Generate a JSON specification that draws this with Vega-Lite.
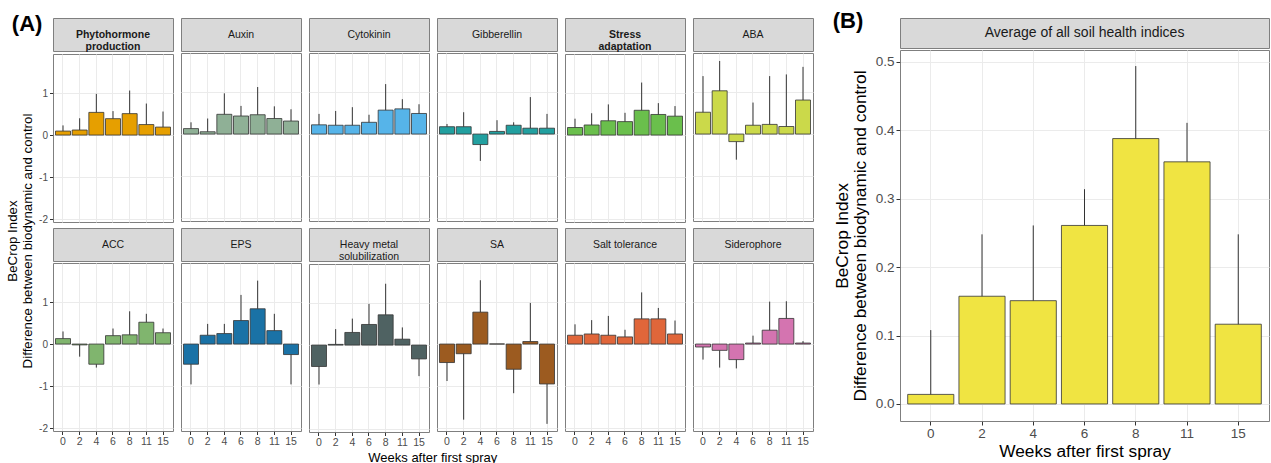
{
"$schema": "https://vega.github.io/schema/vega-lite/v6.json",
"padding": {"left": 5, "top": 9, "right": 0, "bottom": 0},
"spacing": 18,
"datasets": {
"a": [
{"cat":"Phytohormone production","week":0,"value":0.095,"err":0.23},{"cat":"Phytohormone production","week":2,"value":0.12,"err":0.40},{"cat":"Phytohormone production","week":4,"value":0.54,"err":0.98},{"cat":"Phytohormone production","week":6,"value":0.39,"err":0.57},{"cat":"Phytohormone production","week":8,"value":0.51,"err":1.06},{"cat":"Phytohormone production","week":11,"value":0.25,"err":0.75},{"cat":"Phytohormone production","week":15,"value":0.19,"err":0.56},
{"cat":"Auxin","week":0,"value":0.13,"err":0.28},{"cat":"Auxin","week":2,"value":0.055,"err":0.37},{"cat":"Auxin","week":4,"value":0.47,"err":0.97},{"cat":"Auxin","week":6,"value":0.43,"err":0.67},{"cat":"Auxin","week":8,"value":0.46,"err":1.12},{"cat":"Auxin","week":11,"value":0.37,"err":0.66},{"cat":"Auxin","week":15,"value":0.31,"err":0.59},
{"cat":"Cytokinin","week":0,"value":0.22,"err":0.48},{"cat":"Cytokinin","week":2,"value":0.21,"err":0.55},{"cat":"Cytokinin","week":4,"value":0.21,"err":0.64},{"cat":"Cytokinin","week":6,"value":0.28,"err":0.46},{"cat":"Cytokinin","week":8,"value":0.57,"err":1.19},{"cat":"Cytokinin","week":11,"value":0.60,"err":0.83},{"cat":"Cytokinin","week":15,"value":0.49,"err":0.71},
{"cat":"Gibberellin","week":0,"value":0.175,"err":0.24},{"cat":"Gibberellin","week":2,"value":0.175,"err":0.52},{"cat":"Gibberellin","week":4,"value":-0.25,"err":-0.64},{"cat":"Gibberellin","week":6,"value":0.063,"err":0.33},{"cat":"Gibberellin","week":8,"value":0.21,"err":0.28},{"cat":"Gibberellin","week":11,"value":0.14,"err":0.88},{"cat":"Gibberellin","week":15,"value":0.14,"err":0.48},
{"cat":"Stress adaptation","week":0,"value":0.18,"err":0.39},{"cat":"Stress adaptation","week":2,"value":0.24,"err":0.52},{"cat":"Stress adaptation","week":4,"value":0.34,"err":0.73},{"cat":"Stress adaptation","week":6,"value":0.32,"err":0.53},{"cat":"Stress adaptation","week":8,"value":0.59,"err":1.25},{"cat":"Stress adaptation","week":11,"value":0.49,"err":0.76},{"cat":"Stress adaptation","week":15,"value":0.45,"err":0.69},
{"cat":"ABA","week":0,"value":0.52,"err":1.38},{"cat":"ABA","week":2,"value":1.03,"err":1.74},{"cat":"ABA","week":4,"value":-0.18,"err":-0.61},{"cat":"ABA","week":6,"value":0.21,"err":0.75},{"cat":"ABA","week":8,"value":0.23,"err":1.38},{"cat":"ABA","week":11,"value":0.18,"err":1.42},{"cat":"ABA","week":15,"value":0.81,"err":1.60},
{"cat":"ACC","week":0,"value":0.13,"err":0.30},{"cat":"ACC","week":2,"value":-0.02,"err":-0.30},{"cat":"ACC","week":4,"value":-0.48,"err":-0.56},{"cat":"ACC","week":6,"value":0.20,"err":0.37},{"cat":"ACC","week":8,"value":0.22,"err":0.78},{"cat":"ACC","week":11,"value":0.52,"err":0.72},{"cat":"ACC","week":15,"value":0.27,"err":0.37},
{"cat":"EPS","week":0,"value":-0.48,"err":-0.96},{"cat":"EPS","week":2,"value":0.21,"err":0.48},{"cat":"EPS","week":4,"value":0.25,"err":0.48},{"cat":"EPS","week":6,"value":0.56,"err":1.17},{"cat":"EPS","week":8,"value":0.84,"err":1.51},{"cat":"EPS","week":11,"value":0.32,"err":0.72},{"cat":"EPS","week":15,"value":-0.25,"err":-0.96},
{"cat":"Heavy metal solubilization","week":0,"value":-0.51,"err":-0.94},{"cat":"Heavy metal solubilization","week":2,"value":0.016,"err":0.38},{"cat":"Heavy metal solubilization","week":4,"value":0.30,"err":0.63},{"cat":"Heavy metal solubilization","week":6,"value":0.49,"err":0.98},{"cat":"Heavy metal solubilization","week":8,"value":0.72,"err":1.46},{"cat":"Heavy metal solubilization","week":11,"value":0.14,"err":0.42},{"cat":"Heavy metal solubilization","week":15,"value":-0.33,"err":-0.74},
{"cat":"SA","week":0,"value":-0.44,"err":-0.88},{"cat":"SA","week":2,"value":-0.23,"err":-1.80},{"cat":"SA","week":4,"value":0.76,"err":1.52},{"cat":"SA","week":6,"value":0.003,"err":0.003},{"cat":"SA","week":8,"value":-0.60,"err":-1.17},{"cat":"SA","week":11,"value":0.06,"err":0.98},{"cat":"SA","week":15,"value":-0.95,"err":-1.90},
{"cat":"Salt tolerance","week":0,"value":0.21,"err":0.47},{"cat":"Salt tolerance","week":2,"value":0.24,"err":0.57},{"cat":"Salt tolerance","week":4,"value":0.21,"err":0.67},{"cat":"Salt tolerance","week":6,"value":0.17,"err":0.34},{"cat":"Salt tolerance","week":8,"value":0.60,"err":1.23},{"cat":"Salt tolerance","week":11,"value":0.60,"err":0.86},{"cat":"Salt tolerance","week":15,"value":0.24,"err":0.56},
{"cat":"Siderophore","week":0,"value":-0.07,"err":-0.37},{"cat":"Siderophore","week":2,"value":-0.15,"err":-0.56},{"cat":"Siderophore","week":4,"value":-0.37,"err":-0.58},{"cat":"Siderophore","week":6,"value":0.024,"err":0.20},{"cat":"Siderophore","week":8,"value":0.33,"err":1.01},{"cat":"Siderophore","week":11,"value":0.61,"err":1.02},{"cat":"Siderophore","week":15,"value":0.024,"err":0.07}
],
"b": [
{"week":0,"value":0.014,"err":0.108},{"week":2,"value":0.1575,"err":0.248},{"week":4,"value":0.151,"err":0.261},{"week":6,"value":0.261,"err":0.314},{"week":8,"value":0.388,"err":0.494},{"week":11,"value":0.354,"err":0.411},{"week":15,"value":0.1166,"err":0.248}
]
},
"hconcat": [
{
"title": {"text": "(A)", "anchor": "start", "frame": "bounds", "fontSize": 22, "fontWeight": "bold", "offset": -13, "dx": 6, "dy": 5},
"vconcat": [
{
"title": {"text": ["BeCrop Index", "Difference between biodynamic and control"], "orient": "left", "anchor": "middle", "frame": "bounds", "fontSize": 13.3, "fontWeight": "normal", "lineHeight": 15, "offset": -10, "dy": -14},
"vconcat": [
{
"title": {"text": "Weeks after first spray", "orient": "bottom", "anchor": "middle", "frame": "bounds", "fontSize": 13, "fontWeight": "normal", "offset": 3, "dx": 7},
"spacing": 2,
"vconcat": [
{"spacing": 6, "hconcat": [
{"spacing": 0, "vconcat": [
{"width": 120, "height": 33, "view": {"fill": "#d9d9d9", "stroke": "#7f7f7f"}, "data": {"values": [{"s": "Phytohormone\nproduction"}]}, "mark": {"type": "text", "fontSize": 10.5, "fontWeight": "bold", "color": "#1a1a1a", "lineBreak": "\n", "lineHeight": 12}, "encoding": {"text": {"field": "s"}}},
{"width": 120, "height": 168, "data": {"name": "a"}, "transform": [{"filter": "datum.cat === 'Phytohormone production'"}],
 "encoding": {"x": {"field": "week", "type": "ordinal", "scale": {"paddingInner": 0.1, "paddingOuter": 0.15}, "axis": {"title": null, "labels": false, "ticks": false, "bandPosition": 0.5, "grid": true}}},
 "layer": [
  {"mark": {"type": "bar", "fill": "#E69F00", "stroke": "#333333", "strokeWidth": 0.8}, "encoding": {"y": {"field": "value", "type": "quantitative", "scale": {"domain": [-2.07, 1.93], "nice": false}, "axis": {"title": null, "grid": true, "values": [-2,-1.5,-1,-0.5,0,0.5,1,1.5], "gridWidth": {"condition": {"test": "datum.value % 1 !== 0", "value": 0.5}, "value": 1}, "tickOpacity": {"condition": {"test": "datum.value % 1 !== 0", "value": 0}, "value": 1}, "labelExpr": "datum.value % 1 === 0 ? '' + datum.value : ''", "labelFontSize": 10}}}},
  {"mark": {"type": "rule", "color": "#333333", "strokeWidth": 1}, "encoding": {"y": {"field": "value", "type": "quantitative"}, "y2": {"field": "err"}}}
 ]}
]},
{"spacing": 0, "vconcat": [
{"width": 120, "height": 33, "view": {"fill": "#d9d9d9", "stroke": "#7f7f7f"}, "data": {"values": [{"s": "Auxin"}]}, "mark": {"type": "text", "fontSize": 10.5, "color": "#1a1a1a", "lineBreak": "\n", "lineHeight": 12}, "encoding": {"text": {"field": "s"}}},
{"width": 120, "height": 168, "data": {"name": "a"}, "transform": [{"filter": "datum.cat === 'Auxin'"}],
 "encoding": {"x": {"field": "week", "type": "ordinal", "scale": {"paddingInner": 0.1, "paddingOuter": 0.15}, "axis": {"title": null, "labels": false, "ticks": false, "bandPosition": 0.5, "grid": true}}},
 "layer": [
  {"mark": {"type": "bar", "fill": "#8fb096", "stroke": "#333333", "strokeWidth": 0.8}, "encoding": {"y": {"field": "value", "type": "quantitative", "scale": {"domain": [-2.07, 1.93], "nice": false}, "axis": {"title": null, "labels": false, "ticks": false, "grid": true, "values": [-2,-1.5,-1,-0.5,0,0.5,1,1.5], "gridWidth": {"condition": {"test": "datum.value % 1 !== 0", "value": 0.5}, "value": 1}}}}},
  {"mark": {"type": "rule", "color": "#333333", "strokeWidth": 1}, "encoding": {"y": {"field": "value", "type": "quantitative"}, "y2": {"field": "err"}}}
 ]}
]},
{"spacing": 0, "vconcat": [
{"width": 120, "height": 33, "view": {"fill": "#d9d9d9", "stroke": "#7f7f7f"}, "data": {"values": [{"s": "Cytokinin"}]}, "mark": {"type": "text", "fontSize": 10.5, "color": "#1a1a1a", "lineBreak": "\n", "lineHeight": 12}, "encoding": {"text": {"field": "s"}}},
{"width": 120, "height": 168, "data": {"name": "a"}, "transform": [{"filter": "datum.cat === 'Cytokinin'"}],
 "encoding": {"x": {"field": "week", "type": "ordinal", "scale": {"paddingInner": 0.1, "paddingOuter": 0.15}, "axis": {"title": null, "labels": false, "ticks": false, "bandPosition": 0.5, "grid": true}}},
 "layer": [
  {"mark": {"type": "bar", "fill": "#56B4E9", "stroke": "#333333", "strokeWidth": 0.8}, "encoding": {"y": {"field": "value", "type": "quantitative", "scale": {"domain": [-2.07, 1.93], "nice": false}, "axis": {"title": null, "labels": false, "ticks": false, "grid": true, "values": [-2,-1.5,-1,-0.5,0,0.5,1,1.5], "gridWidth": {"condition": {"test": "datum.value % 1 !== 0", "value": 0.5}, "value": 1}}}}},
  {"mark": {"type": "rule", "color": "#333333", "strokeWidth": 1}, "encoding": {"y": {"field": "value", "type": "quantitative"}, "y2": {"field": "err"}}}
 ]}
]},
{"spacing": 0, "vconcat": [
{"width": 120, "height": 33, "view": {"fill": "#d9d9d9", "stroke": "#7f7f7f"}, "data": {"values": [{"s": "Gibberellin"}]}, "mark": {"type": "text", "fontSize": 10.5, "color": "#1a1a1a", "lineBreak": "\n", "lineHeight": 12}, "encoding": {"text": {"field": "s"}}},
{"width": 120, "height": 168, "data": {"name": "a"}, "transform": [{"filter": "datum.cat === 'Gibberellin'"}],
 "encoding": {"x": {"field": "week", "type": "ordinal", "scale": {"paddingInner": 0.1, "paddingOuter": 0.15}, "axis": {"title": null, "labels": false, "ticks": false, "bandPosition": 0.5, "grid": true}}},
 "layer": [
  {"mark": {"type": "bar", "fill": "#22a0a0", "stroke": "#333333", "strokeWidth": 0.8}, "encoding": {"y": {"field": "value", "type": "quantitative", "scale": {"domain": [-2.07, 1.93], "nice": false}, "axis": {"title": null, "labels": false, "ticks": false, "grid": true, "values": [-2,-1.5,-1,-0.5,0,0.5,1,1.5], "gridWidth": {"condition": {"test": "datum.value % 1 !== 0", "value": 0.5}, "value": 1}}}}},
  {"mark": {"type": "rule", "color": "#333333", "strokeWidth": 1}, "encoding": {"y": {"field": "value", "type": "quantitative"}, "y2": {"field": "err"}}}
 ]}
]},
{"spacing": 0, "vconcat": [
{"width": 120, "height": 33, "view": {"fill": "#d9d9d9", "stroke": "#7f7f7f"}, "data": {"values": [{"s": "Stress\nadaptation"}]}, "mark": {"type": "text", "fontSize": 10.5, "fontWeight": "bold", "color": "#1a1a1a", "lineBreak": "\n", "lineHeight": 12}, "encoding": {"text": {"field": "s"}}},
{"width": 120, "height": 168, "data": {"name": "a"}, "transform": [{"filter": "datum.cat === 'Stress adaptation'"}],
 "encoding": {"x": {"field": "week", "type": "ordinal", "scale": {"paddingInner": 0.1, "paddingOuter": 0.15}, "axis": {"title": null, "labels": false, "ticks": false, "bandPosition": 0.5, "grid": true}}},
 "layer": [
  {"mark": {"type": "bar", "fill": "#6abf4c", "stroke": "#333333", "strokeWidth": 0.8}, "encoding": {"y": {"field": "value", "type": "quantitative", "scale": {"domain": [-2.07, 1.93], "nice": false}, "axis": {"title": null, "labels": false, "ticks": false, "grid": true, "values": [-2,-1.5,-1,-0.5,0,0.5,1,1.5], "gridWidth": {"condition": {"test": "datum.value % 1 !== 0", "value": 0.5}, "value": 1}}}}},
  {"mark": {"type": "rule", "color": "#333333", "strokeWidth": 1}, "encoding": {"y": {"field": "value", "type": "quantitative"}, "y2": {"field": "err"}}}
 ]}
]},
{"spacing": 0, "vconcat": [
{"width": 120, "height": 33, "view": {"fill": "#d9d9d9", "stroke": "#7f7f7f"}, "data": {"values": [{"s": "ABA"}]}, "mark": {"type": "text", "fontSize": 10.5, "color": "#1a1a1a", "lineBreak": "\n", "lineHeight": 12}, "encoding": {"text": {"field": "s"}}},
{"width": 120, "height": 168, "data": {"name": "a"}, "transform": [{"filter": "datum.cat === 'ABA'"}],
 "encoding": {"x": {"field": "week", "type": "ordinal", "scale": {"paddingInner": 0.1, "paddingOuter": 0.15}, "axis": {"title": null, "labels": false, "ticks": false, "bandPosition": 0.5, "grid": true}}},
 "layer": [
  {"mark": {"type": "bar", "fill": "#cbd94a", "stroke": "#333333", "strokeWidth": 0.8}, "encoding": {"y": {"field": "value", "type": "quantitative", "scale": {"domain": [-2.07, 1.93], "nice": false}, "axis": {"title": null, "labels": false, "ticks": false, "grid": true, "values": [-2,-1.5,-1,-0.5,0,0.5,1,1.5], "gridWidth": {"condition": {"test": "datum.value % 1 !== 0", "value": 0.5}, "value": 1}}}}},
  {"mark": {"type": "rule", "color": "#333333", "strokeWidth": 1}, "encoding": {"y": {"field": "value", "type": "quantitative"}, "y2": {"field": "err"}}}
 ]}
]}
]},
{"spacing": 6, "hconcat": [
{"spacing": 0, "vconcat": [
{"width": 120, "height": 33, "view": {"fill": "#d9d9d9", "stroke": "#7f7f7f"}, "data": {"values": [{"s": "ACC"}]}, "mark": {"type": "text", "fontSize": 10.5, "color": "#1a1a1a", "lineBreak": "\n", "lineHeight": 12}, "encoding": {"text": {"field": "s"}}},
{"width": 120, "height": 168, "data": {"name": "a"}, "transform": [{"filter": "datum.cat === 'ACC'"}],
 "encoding": {"x": {"field": "week", "type": "ordinal", "scale": {"paddingInner": 0.1, "paddingOuter": 0.15}, "axis": {"title": null, "labelAngle": 0, "labelFontSize": 10.5, "bandPosition": 0.5, "grid": true}}},
 "layer": [
  {"mark": {"type": "bar", "fill": "#80b56e", "stroke": "#333333", "strokeWidth": 0.8}, "encoding": {"y": {"field": "value", "type": "quantitative", "scale": {"domain": [-2.07, 1.93], "nice": false}, "axis": {"title": null, "grid": true, "values": [-2,-1.5,-1,-0.5,0,0.5,1,1.5], "gridWidth": {"condition": {"test": "datum.value % 1 !== 0", "value": 0.5}, "value": 1}, "tickOpacity": {"condition": {"test": "datum.value % 1 !== 0", "value": 0}, "value": 1}, "labelExpr": "datum.value % 1 === 0 ? '' + datum.value : ''", "labelFontSize": 10}}}},
  {"mark": {"type": "rule", "color": "#333333", "strokeWidth": 1}, "encoding": {"y": {"field": "value", "type": "quantitative"}, "y2": {"field": "err"}}}
 ]}
]},
{"spacing": 0, "vconcat": [
{"width": 120, "height": 33, "view": {"fill": "#d9d9d9", "stroke": "#7f7f7f"}, "data": {"values": [{"s": "EPS"}]}, "mark": {"type": "text", "fontSize": 10.5, "color": "#1a1a1a", "lineBreak": "\n", "lineHeight": 12}, "encoding": {"text": {"field": "s"}}},
{"width": 120, "height": 168, "data": {"name": "a"}, "transform": [{"filter": "datum.cat === 'EPS'"}],
 "encoding": {"x": {"field": "week", "type": "ordinal", "scale": {"paddingInner": 0.1, "paddingOuter": 0.15}, "axis": {"title": null, "labelAngle": 0, "labelFontSize": 10.5, "bandPosition": 0.5, "grid": true}}},
 "layer": [
  {"mark": {"type": "bar", "fill": "#1a72a6", "stroke": "#333333", "strokeWidth": 0.8}, "encoding": {"y": {"field": "value", "type": "quantitative", "scale": {"domain": [-2.07, 1.93], "nice": false}, "axis": {"title": null, "labels": false, "ticks": false, "grid": true, "values": [-2,-1.5,-1,-0.5,0,0.5,1,1.5], "gridWidth": {"condition": {"test": "datum.value % 1 !== 0", "value": 0.5}, "value": 1}}}}},
  {"mark": {"type": "rule", "color": "#333333", "strokeWidth": 1}, "encoding": {"y": {"field": "value", "type": "quantitative"}, "y2": {"field": "err"}}}
 ]}
]},
{"spacing": 0, "vconcat": [
{"width": 120, "height": 33, "view": {"fill": "#d9d9d9", "stroke": "#7f7f7f"}, "data": {"values": [{"s": "Heavy metal\nsolubilization"}]}, "mark": {"type": "text", "fontSize": 10.5, "color": "#1a1a1a", "lineBreak": "\n", "lineHeight": 12}, "encoding": {"text": {"field": "s"}}},
{"width": 120, "height": 168, "data": {"name": "a"}, "transform": [{"filter": "datum.cat === 'Heavy metal solubilization'"}],
 "encoding": {"x": {"field": "week", "type": "ordinal", "scale": {"paddingInner": 0.1, "paddingOuter": 0.15}, "axis": {"title": null, "labelAngle": 0, "labelFontSize": 10.5, "bandPosition": 0.5, "grid": true}}},
 "layer": [
  {"mark": {"type": "bar", "fill": "#4f6262", "stroke": "#333333", "strokeWidth": 0.8}, "encoding": {"y": {"field": "value", "type": "quantitative", "scale": {"domain": [-2.07, 1.93], "nice": false}, "axis": {"title": null, "labels": false, "ticks": false, "grid": true, "values": [-2,-1.5,-1,-0.5,0,0.5,1,1.5], "gridWidth": {"condition": {"test": "datum.value % 1 !== 0", "value": 0.5}, "value": 1}}}}},
  {"mark": {"type": "rule", "color": "#333333", "strokeWidth": 1}, "encoding": {"y": {"field": "value", "type": "quantitative"}, "y2": {"field": "err"}}}
 ]}
]},
{"spacing": 0, "vconcat": [
{"width": 120, "height": 33, "view": {"fill": "#d9d9d9", "stroke": "#7f7f7f"}, "data": {"values": [{"s": "SA"}]}, "mark": {"type": "text", "fontSize": 10.5, "color": "#1a1a1a", "lineBreak": "\n", "lineHeight": 12}, "encoding": {"text": {"field": "s"}}},
{"width": 120, "height": 168, "data": {"name": "a"}, "transform": [{"filter": "datum.cat === 'SA'"}],
 "encoding": {"x": {"field": "week", "type": "ordinal", "scale": {"paddingInner": 0.1, "paddingOuter": 0.15}, "axis": {"title": null, "labelAngle": 0, "labelFontSize": 10.5, "bandPosition": 0.5, "grid": true}}},
 "layer": [
  {"mark": {"type": "bar", "fill": "#9c5b20", "stroke": "#333333", "strokeWidth": 0.8}, "encoding": {"y": {"field": "value", "type": "quantitative", "scale": {"domain": [-2.07, 1.93], "nice": false}, "axis": {"title": null, "labels": false, "ticks": false, "grid": true, "values": [-2,-1.5,-1,-0.5,0,0.5,1,1.5], "gridWidth": {"condition": {"test": "datum.value % 1 !== 0", "value": 0.5}, "value": 1}}}}},
  {"mark": {"type": "rule", "color": "#333333", "strokeWidth": 1}, "encoding": {"y": {"field": "value", "type": "quantitative"}, "y2": {"field": "err"}}}
 ]}
]},
{"spacing": 0, "vconcat": [
{"width": 120, "height": 33, "view": {"fill": "#d9d9d9", "stroke": "#7f7f7f"}, "data": {"values": [{"s": "Salt tolerance"}]}, "mark": {"type": "text", "fontSize": 10.5, "color": "#1a1a1a", "lineBreak": "\n", "lineHeight": 12}, "encoding": {"text": {"field": "s"}}},
{"width": 120, "height": 168, "data": {"name": "a"}, "transform": [{"filter": "datum.cat === 'Salt tolerance'"}],
 "encoding": {"x": {"field": "week", "type": "ordinal", "scale": {"paddingInner": 0.1, "paddingOuter": 0.15}, "axis": {"title": null, "labelAngle": 0, "labelFontSize": 10.5, "bandPosition": 0.5, "grid": true}}},
 "layer": [
  {"mark": {"type": "bar", "fill": "#e0663a", "stroke": "#333333", "strokeWidth": 0.8}, "encoding": {"y": {"field": "value", "type": "quantitative", "scale": {"domain": [-2.07, 1.93], "nice": false}, "axis": {"title": null, "labels": false, "ticks": false, "grid": true, "values": [-2,-1.5,-1,-0.5,0,0.5,1,1.5], "gridWidth": {"condition": {"test": "datum.value % 1 !== 0", "value": 0.5}, "value": 1}}}}},
  {"mark": {"type": "rule", "color": "#333333", "strokeWidth": 1}, "encoding": {"y": {"field": "value", "type": "quantitative"}, "y2": {"field": "err"}}}
 ]}
]},
{"spacing": 0, "vconcat": [
{"width": 120, "height": 33, "view": {"fill": "#d9d9d9", "stroke": "#7f7f7f"}, "data": {"values": [{"s": "Siderophore"}]}, "mark": {"type": "text", "fontSize": 10.5, "color": "#1a1a1a", "lineBreak": "\n", "lineHeight": 12}, "encoding": {"text": {"field": "s"}}},
{"width": 120, "height": 168, "data": {"name": "a"}, "transform": [{"filter": "datum.cat === 'Siderophore'"}],
 "encoding": {"x": {"field": "week", "type": "ordinal", "scale": {"paddingInner": 0.1, "paddingOuter": 0.15}, "axis": {"title": null, "labelAngle": 0, "labelFontSize": 10.5, "bandPosition": 0.5, "grid": true}}},
 "layer": [
  {"mark": {"type": "bar", "fill": "#d474b0", "stroke": "#333333", "strokeWidth": 0.8}, "encoding": {"y": {"field": "value", "type": "quantitative", "scale": {"domain": [-2.07, 1.93], "nice": false}, "axis": {"title": null, "labels": false, "ticks": false, "grid": true, "values": [-2,-1.5,-1,-0.5,0,0.5,1,1.5], "gridWidth": {"condition": {"test": "datum.value % 1 !== 0", "value": 0.5}, "value": 1}}}}},
  {"mark": {"type": "rule", "color": "#333333", "strokeWidth": 1}, "encoding": {"y": {"field": "value", "type": "quantitative"}, "y2": {"field": "err"}}}
 ]}
]}
]}
]
}
]
}
]
},
{
"title": {"text": "(B)", "anchor": "start", "frame": "bounds", "fontSize": 22, "fontWeight": "bold", "offset": -11, "dy": 4},
"spacing": 0,
"vconcat": [
{"width": 369, "height": 30, "view": {"fill": "#d9d9d9", "stroke": "#7f7f7f"}, "data": {"values": [{"s": "Average of all soil health indices"}]}, "mark": {"type": "text", "fontSize": 14, "color": "#1a1a1a"}, "encoding": {"text": {"field": "s"}}},
{"width": 369, "height": 371, "data": {"name": "b"},
 "encoding": {"x": {"field": "week", "type": "ordinal", "scale": {"paddingInner": 0.1, "paddingOuter": 0.15}, "axis": {"title": "Weeks after first spray", "titleFontSize": 17.3, "titlePadding": 3, "labelAngle": 0, "labelFontSize": 13.5, "labelPadding": 1, "tickSize": 4, "bandPosition": 0.5, "grid": true}}},
 "layer": [
  {"mark": {"type": "bar", "fill": "#f0e442", "stroke": "#333333", "strokeWidth": 0.8}, "encoding": {"y": {"field": "value", "type": "quantitative", "scale": {"domain": [-0.0249, 0.5175], "nice": false}, "axis": {"title": ["BeCrop Index", "Difference between biodynamic and control"], "titleFontSize": 17.3, "titleLineHeight": 18, "titlePadding": 6, "grid": true, "tickSize": 4, "labelFontSize": 13.5, "values": [0,0.05,0.1,0.15,0.2,0.25,0.3,0.35,0.4,0.45,0.5], "gridWidth": {"condition": {"test": "round(datum.value*100) % 10 !== 0", "value": 0.5}, "value": 1}, "tickOpacity": {"condition": {"test": "round(datum.value*100) % 10 !== 0", "value": 0}, "value": 1}, "labelExpr": "round(datum.value*100) % 10 === 0 ? format(datum.value, '.1f') : ''"}}}},
  {"mark": {"type": "rule", "color": "#333333", "strokeWidth": 1}, "encoding": {"y": {"field": "value", "type": "quantitative"}, "y2": {"field": "err"}}}
 ]}
]
}
],
"config": {
 "font": "Liberation Sans",
 "view": {"stroke": "#7f7f7f", "strokeWidth": 1},
 "axis": {"domain": false, "gridColor": "#ebebeb", "labelColor": "#4d4d4d", "tickColor": "#333333", "tickSize": 3.5, "labelPadding": 2, "labelFont": "Liberation Sans", "titleFont": "Liberation Sans", "titleFontWeight": "normal", "titleColor": "#000000"},
 "title": {"color": "#000000", "font": "Liberation Sans"}
}
}
